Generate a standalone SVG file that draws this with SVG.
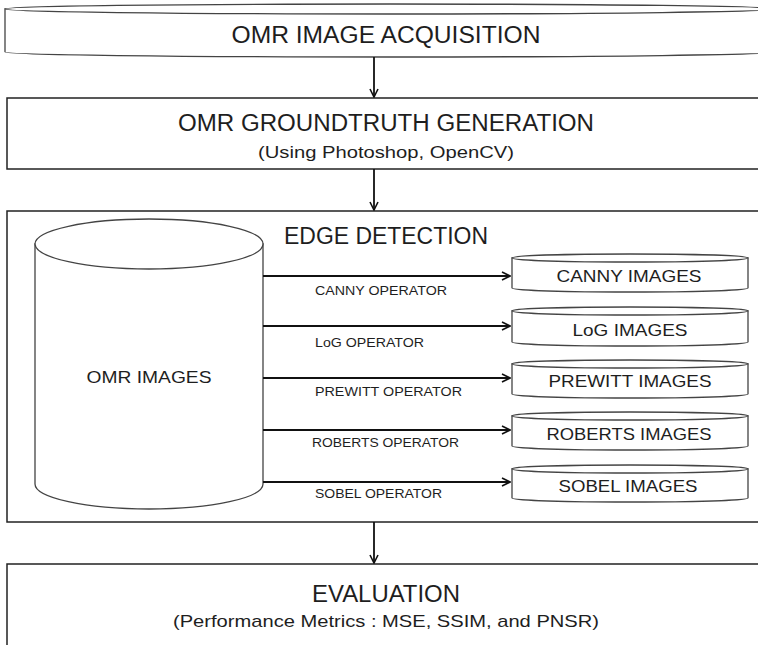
<svg xmlns="http://www.w3.org/2000/svg" width="758" height="645" viewBox="0 0 758 645">
  <defs>
    <marker id="arrow" viewBox="0 0 10 10" refX="9" refY="5" markerWidth="10" markerHeight="10" markerUnits="userSpaceOnUse" orient="auto">
      <path d="M1,1 L9,5 L1,9" fill="none" stroke="#111" stroke-width="1.6"/>
    </marker>
  </defs>
  <style>
    .box { fill: #fff; stroke: #222; stroke-width: 1.5; }
    .cyl { fill: #fff; stroke: #444; stroke-width: 1.3; }
    .link { fill: none; stroke: #111; stroke-width: 1.8; marker-end: url(#arrow); }
    text { font-family: "Liberation Sans", Arial, sans-serif; fill: #1e1e1e; }
    .big { font-size: 23px; text-anchor: middle; }
    .sub { font-size: 17px; text-anchor: middle; }
    .mid { font-size: 17px; text-anchor: middle; }
    .op { font-size: 13px; }
  </style>

  <rect width="758" height="645" fill="#fff"/>

  <!-- Stage 1: acquisition (flat cylinder, runs past the right edge) -->
  <g id="acquisition">
    <path class="cyl" d="M5,9 L5,52 A385,5 0 0 0 775,52 L775,9 Z"/>
    <ellipse class="cyl" cx="390" cy="9" rx="385" ry="5"/>
    <text class="big" x="386" y="43" textLength="309" lengthAdjust="spacingAndGlyphs">OMR IMAGE ACQUISITION</text>
  </g>

  <!-- Stage 2: ground truth -->
  <g id="groundtruth">
    <rect class="box" x="7" y="98" width="760" height="71"/>
    <text class="big" x="386" y="131" textLength="416" lengthAdjust="spacingAndGlyphs">OMR GROUNDTRUTH GENERATION</text>
    <text class="sub" x="386" y="158" textLength="256" lengthAdjust="spacingAndGlyphs">(Using Photoshop, OpenCV)</text>
  </g>

  <!-- Stage 3: edge detection container -->
  <g id="edge-detection">
    <rect class="box" x="7" y="211" width="760" height="311"/>
    <text class="big" x="386" y="244" textLength="204" lengthAdjust="spacingAndGlyphs">EDGE DETECTION</text>
  </g>

  <g id="omr-images">
    <path class="cyl" d="M35,244 L35,484 A114,25 0 0 0 263,484 L263,244 Z"/>
    <ellipse class="cyl" cx="149" cy="244" rx="114" ry="25"/>
    <text class="mid" x="149" y="383" textLength="125" lengthAdjust="spacingAndGlyphs">OMR IMAGES</text>
  </g>

  <g id="canny-images">
    <path class="cyl" d="M512,258 L512,288 A118,4 0 0 0 748,288 L748,258 Z"/>
    <ellipse class="cyl" cx="630" cy="258" rx="118" ry="4"/>
    <text class="mid" x="629" y="282" textLength="145" lengthAdjust="spacingAndGlyphs">CANNY IMAGES</text>
  </g>
  <g id="log-images">
    <path class="cyl" d="M512,311 L512,342 A118,4 0 0 0 748,342 L748,311 Z"/>
    <ellipse class="cyl" cx="630" cy="311" rx="118" ry="4"/>
    <text class="mid" x="630" y="336" textLength="115" lengthAdjust="spacingAndGlyphs">LoG IMAGES</text>
  </g>
  <g id="prewitt-images">
    <path class="cyl" d="M512,364 L512,394 A118,4 0 0 0 748,394 L748,364 Z"/>
    <ellipse class="cyl" cx="630" cy="364" rx="118" ry="4"/>
    <text class="mid" x="630" y="387" textLength="163" lengthAdjust="spacingAndGlyphs">PREWITT IMAGES</text>
  </g>
  <g id="roberts-images">
    <path class="cyl" d="M512,416 L512,446 A118,4 0 0 0 748,446 L748,416 Z"/>
    <ellipse class="cyl" cx="630" cy="416" rx="118" ry="4"/>
    <text class="mid" x="629" y="440" textLength="165" lengthAdjust="spacingAndGlyphs">ROBERTS IMAGES</text>
  </g>
  <g id="sobel-images">
    <path class="cyl" d="M512,469 L512,498 A118,4 0 0 0 748,498 L748,469 Z"/>
    <ellipse class="cyl" cx="630" cy="469" rx="118" ry="4"/>
    <text class="mid" x="628" y="492" textLength="139" lengthAdjust="spacingAndGlyphs">SOBEL IMAGES</text>
  </g>

  <!-- Stage 4: evaluation -->
  <g id="evaluation">
    <rect class="box" x="7" y="564" width="760" height="100"/>
    <text class="big" x="386" y="602" textLength="148" lengthAdjust="spacingAndGlyphs">EVALUATION</text>
    <text class="sub" x="386" y="627" textLength="426" lengthAdjust="spacingAndGlyphs">(Performance  Metrics : MSE, SSIM, and PNSR)</text>
  </g>

  <!-- Connectors -->
  <g id="connectors">
    <line class="link" x1="374" y1="57" x2="374" y2="97"/>
    <line class="link" x1="374" y1="169" x2="374" y2="210"/>
    <line class="link" x1="374" y1="522" x2="374" y2="563"/>
    <line class="link" x1="263" y1="276" x2="510" y2="276"/>
    <line class="link" x1="263" y1="326" x2="510" y2="326"/>
    <line class="link" x1="263" y1="378" x2="510" y2="378"/>
    <line class="link" x1="263" y1="430" x2="510" y2="430"/>
    <line class="link" x1="263" y1="482" x2="510" y2="482"/>
  </g>

  <!-- Operator labels -->
  <g id="operator-labels">
    <text class="op" x="315" y="295" textLength="132" lengthAdjust="spacingAndGlyphs">CANNY OPERATOR</text>
    <text class="op" x="315" y="347" textLength="109" lengthAdjust="spacingAndGlyphs">LoG OPERATOR</text>
    <text class="op" x="315" y="396" textLength="147" lengthAdjust="spacingAndGlyphs">PREWITT OPERATOR</text>
    <text class="op" x="312" y="447" textLength="147" lengthAdjust="spacingAndGlyphs">ROBERTS OPERATOR</text>
    <text class="op" x="315" y="498" textLength="127" lengthAdjust="spacingAndGlyphs">SOBEL OPERATOR</text>
  </g>
</svg>
